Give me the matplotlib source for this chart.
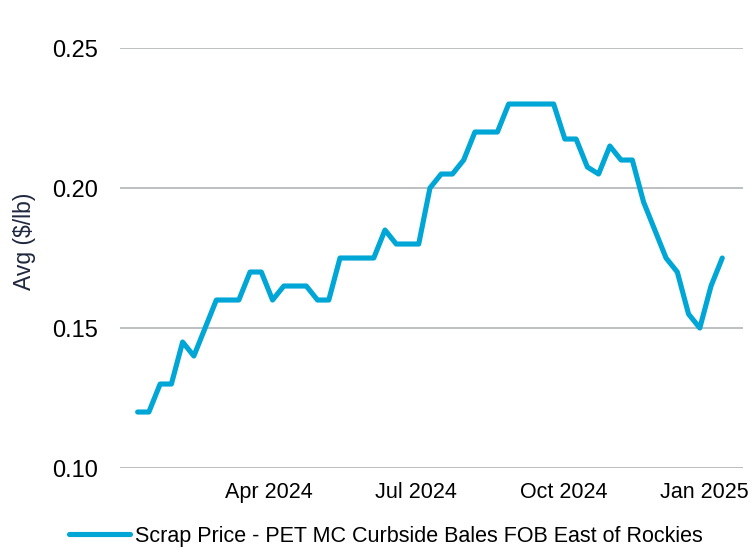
import pandas as pd
import matplotlib
matplotlib.use("Agg")
import matplotlib.pyplot as plt
import matplotlib.dates as mdates
import matplotlib.transforms as mtransforms

# weekly assessments, Jan 2024 - Jan 2025
start_date = "2024-01-10"
prices = [
    0.120, 0.120, 0.130, 0.130, 0.145, 0.140, 0.150, 0.160, 0.160, 0.160,
    0.170, 0.170, 0.160, 0.165, 0.165, 0.165, 0.160, 0.160, 0.175, 0.175,
    0.175, 0.175, 0.185, 0.180, 0.180, 0.180, 0.200, 0.205, 0.205, 0.210,
    0.220, 0.220, 0.220, 0.230, 0.230, 0.230, 0.230, 0.230, 0.2175, 0.2175,
    0.2075, 0.205, 0.215, 0.210, 0.210, 0.195, 0.185, 0.175, 0.170, 0.155,
    0.150, 0.165, 0.175,
]
dates = pd.date_range(start_date, periods=len(prices), freq="7D")
y_ticks = [0.10, 0.15, 0.20, 0.25]
x_ticks = ["2024-04-01", "2024-07-01", "2024-10-01", "2025-01-01"]
series_name = "Scrap Price - PET MC Curbside Bales FOB East of Rockies"

LINE_COLOR = "#00A6D6"
GRID_COLOR = "#B8BBBE"

plt.rcParams["font.family"] = ["Liberation Sans", "DejaVu Sans"]

fig = plt.figure(figsize=(7.56, 5.47), dpi=100)
ax = fig.add_axes([0.1587, 0.1444, 0.8243, 0.7678])

ax.plot(dates, prices, color=LINE_COLOR, lw=3.7, solid_joinstyle="round",
        solid_capstyle="round", label=series_name, clip_on=False, zorder=3)

ax.set_ylim(0.10, 0.25)
ax.set_yticks(y_ticks)
ax.yaxis.set_major_formatter(plt.FuncFormatter(lambda v, _: f"{v:.2f}"))
ax.set_xlim(pd.Timestamp("2023-12-30"), pd.Timestamp("2025-01-21"))
ax.set_xticks(pd.to_datetime(x_ticks))
ax.xaxis.set_major_formatter(mdates.DateFormatter("%b %Y"))

ax.grid(axis="y", color=GRID_COLOR, lw=1.3)
ax.set_axisbelow(True)
for s in ax.spines.values():
    s.set_visible(False)
ax.tick_params(axis="both", length=0, colors="black")
ax.tick_params(axis="y", pad=16, labelsize=17)
ax.tick_params(axis="x", pad=10, labelsize=15.5)

# nudge the last date label so it stays inside the figure
last = ax.get_xticklabels()[-1]
last.set_transform(last.get_transform() +
                   mtransforms.ScaledTranslation(-7 / 100, 0, fig.dpi_scale_trans))

ax.set_ylabel("Avg ($/lb)", fontsize=16.5, color="#202840")
ax.yaxis.set_label_coords(-0.135, 0.54)

fig.legend(loc="center", bbox_to_anchor=(0.51, 0.02), frameon=False,
           borderaxespad=0, borderpad=0, fontsize=15.5,
           handlelength=2.85, handletextpad=0.2)

fig.savefig("out.png", dpi=100)
